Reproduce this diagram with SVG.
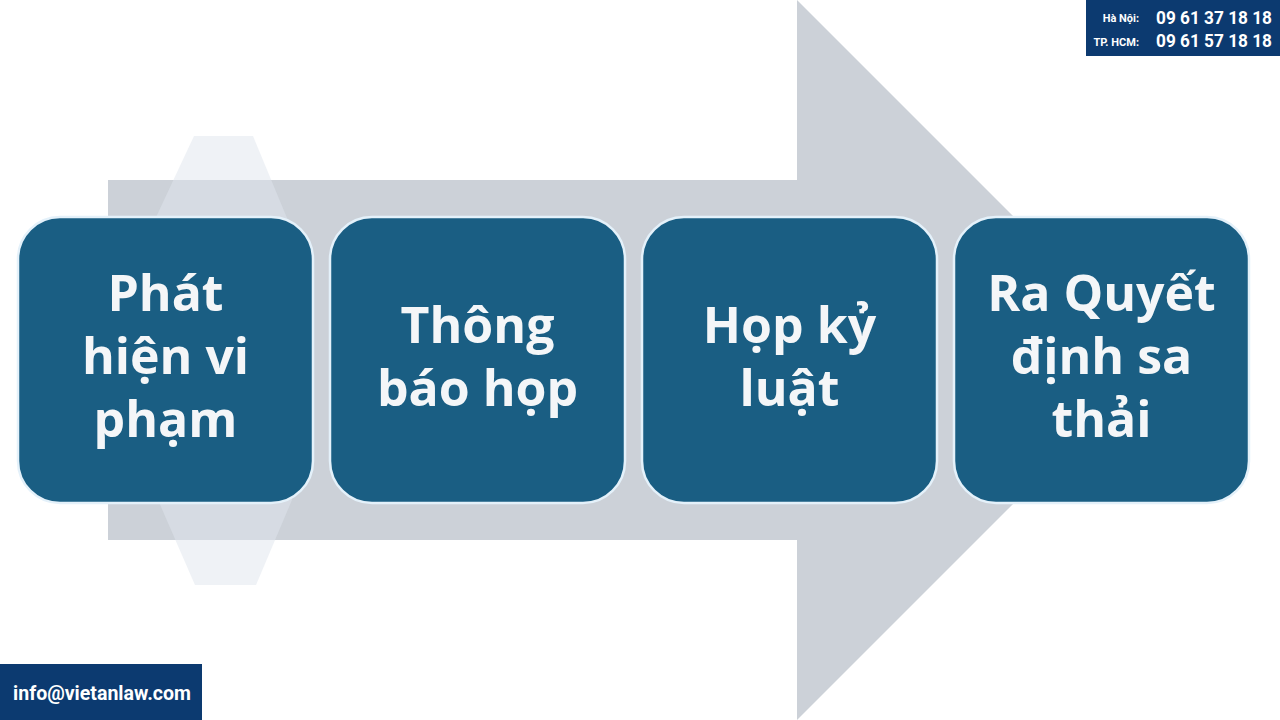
<svg xmlns="http://www.w3.org/2000/svg" width="1280" height="720" viewBox="0 0 1280 720">
<style>
.node rect{fill:#1a5e83;stroke:#e4f1fa;stroke-width:2.5}
.lbl{font-family:"Open Sans","Noto Sans",sans-serif;font-weight:700;font-size:50px;fill:#f4f6f8;text-anchor:middle}
.hdr{font-family:Roboto,"Liberation Sans",sans-serif;font-weight:700;fill:#ffffff}
</style>
<rect width="1280" height="720" fill="#ffffff"/>
<g id="arrow">
<polygon points="108,180 797,180 797,0 1157,360 797,720 797,540 108,540" fill="#ccd1d8"/>
</g>
<g id="watermark">
<polygon points="194,136 253,136 292,230 292,500 256,585 195,585 158,500 150,230" fill="#dfe5ee" opacity="0.5"/>
</g>
<g id="connectors"></g>
<g id="node1" class="node">
<rect x="18" y="217" width="295" height="286" rx="42"/>
<text class="lbl" x="165.5" y="311">Phát</text>
<text class="lbl" x="165.5" y="374">hiện vi</text>
<text class="lbl" x="165.5" y="437">phạm</text>
</g>
<g id="node2" class="node">
<rect x="330" y="217" width="295" height="286" rx="42"/>
<text class="lbl" x="477.5" y="343">Thông</text>
<text class="lbl" x="477.5" y="406">báo họp</text>
</g>
<g id="node3" class="node">
<rect x="642" y="217" width="295" height="286" rx="42"/>
<text class="lbl" x="789.5" y="343">Họp kỷ</text>
<text class="lbl" x="789.5" y="406">luật</text>
</g>
<g id="node4" class="node">
<rect x="954" y="217" width="295" height="286" rx="42"/>
<text class="lbl" x="1101.5" y="311">Ra Quyết</text>
<text class="lbl" x="1101.5" y="374">định sa</text>
<text class="lbl" x="1101.5" y="437">thải</text>
</g>
<g id="contact-top">
<rect x="1086" y="0" width="194" height="56" fill="#0c3a70"/>
<text class="hdr" x="1139" y="22" font-size="11" text-anchor="end">Hà Nội:</text>
<text class="hdr" x="1156" y="24" font-size="18" textLength="116" lengthAdjust="spacingAndGlyphs">09 61 37 18 18</text>
<text class="hdr" x="1139" y="46" font-size="11" text-anchor="end">TP. HCM:</text>
<text class="hdr" x="1156" y="47" font-size="18" textLength="116" lengthAdjust="spacingAndGlyphs">09 61 57 18 18</text>
</g>
<g id="contact-bottom">
<rect x="0" y="664" width="202" height="56" fill="#0c3a70"/>
<text class="hdr" x="13" y="700" font-size="21" textLength="178" lengthAdjust="spacingAndGlyphs">info@vietanlaw.com</text>
</g>
</svg>
